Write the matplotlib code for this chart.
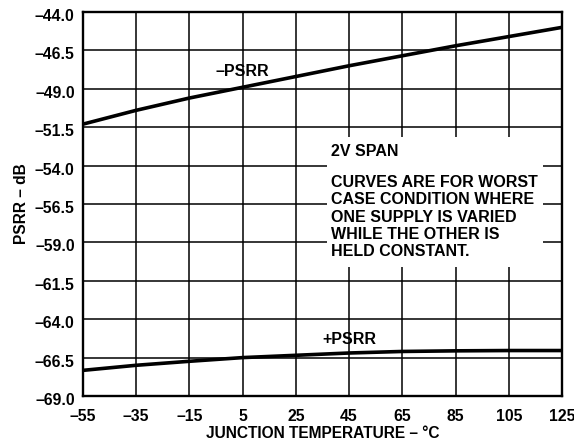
import numpy as np
import matplotlib.pyplot as plt
import matplotlib.transforms as mtransforms
from matplotlib.patches import Rectangle

plt.rcParams['font.family'] = ['Liberation Sans', 'DejaVu Sans']
plt.rcParams['font.weight'] = 'bold'

# Temperatures (deg C) and PSRR values
temp = [-55, -35, -15, 5, 25, 45, 65, 85, 105, 125]
psrr_neg = [-51.3, -50.4, -49.6, -48.9, -48.2, -47.5, -46.85, -46.2, -45.6, -45.0]
psrr_pos = [-67.33, -67.0, -66.74, -66.5, -66.35, -66.2, -66.1, -66.06, -66.04, -66.04]

x_ticks = np.arange(-55, 126, 20)
y_ticks = np.arange(-69.0, -43.9, 2.5)

fig = plt.figure(figsize=(5.74, 4.44), dpi=100)
ax = fig.add_axes([83 / 574, 48 / 444, 479 / 574, 384 / 444])

ax.plot(temp, psrr_neg, color='black', lw=2.6, zorder=3)
ax.plot(temp, psrr_pos, color='black', lw=2.6, zorder=3)

ax.set_xlim(-55, 125)
ax.set_ylim(-69, -44)
ax.set_xticks(x_ticks)
ax.set_yticks(y_ticks)
ax.set_xticklabels([f'{t:d}'.replace('-', '\u2013') for t in x_ticks])
ax.set_yticklabels([f'{v:.1f}'.replace('-', '\u2013') for v in y_ticks])
ax.tick_params(length=0, labelsize=11.3)
ax.tick_params(axis='x', pad=9)
ax.tick_params(axis='y', pad=6)
shift = mtransforms.ScaledTranslation(0, -3 / 100, fig.dpi_scale_trans)
for lab in ax.get_yticklabels():
    lab.set_transform(lab.get_transform() + shift)
for lab in ax.get_xticklabels() + ax.get_yticklabels():
    lab.set_fontweight('bold')

ax.grid(True, color='black', lw=1.1)
ax.set_axisbelow(True)
for s in ax.spines.values():
    s.set_linewidth(1.7)

# white box behind the note
ax.add_patch(Rectangle((36.7, -60.6), 81.2, 8.46, facecolor='white',
                       edgecolor='none', zorder=1.5))
ax.text(38.3, -53.05, '2V SPAN', fontsize=11.5, fontweight='bold', va='center', zorder=4)
ax.text(38.3, -54.6,
        'CURVES ARE FOR WORST\nCASE CONDITION WHERE\nONE SUPPLY IS VARIED\n'
        'WHILE THE OTHER IS\nHELD CONSTANT.',
        fontsize=11.5, fontweight='bold', va='top', linespacing=1.2, zorder=4)

ax.text(5, -47.9, '\u2013PSRR', fontsize=11.5, fontweight='bold', ha='center', va='center')
ax.text(45, -65.3, '+PSRR', fontsize=11.5, fontweight='bold', ha='center', va='center')

ax.set_xlabel('JUNCTION TEMPERATURE \u2013 \u00b0C', fontsize=11.2, fontweight='bold', labelpad=2)
ax.set_ylabel('PSRR \u2013 dB', fontsize=11.2, fontweight='bold', labelpad=4)

fig.savefig('out.png', dpi=100)
